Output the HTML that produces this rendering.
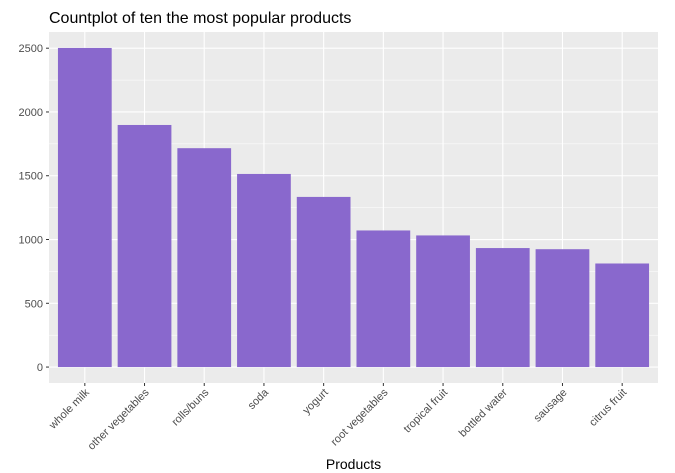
<!DOCTYPE html>
<html><head><meta charset="utf-8"><style>body{margin:0;background:#fff}svg{display:block;font-family:"Liberation Sans",Arial,sans-serif}</style></head>
<body>
<svg id="c" width="675" height="473"></svg>
<script>
const categories=["whole milk","other vegetables","rolls/buns","soda","yogurt","root vegetables","tropical fruit","bottled water","sausage","citrus fruit"];
const counts=[2502,1898,1716,1514,1334,1071,1032,933,924,812];
const yTicks=[0,500,1000,1500,2000,2500];
const NS="http://www.w3.org/2000/svg";
const svg=document.getElementById('c');
const L=49,R=658,T=32,B=383;
const ymin=-125,ymax=2627;
const y=v=>B-(v-ymin)/(ymax-ymin)*(B-T);
const step=(R-L)/(categories.length-1+1.2);
const x=i=>L+step*(0.6+i);
function mk(t,a,p){const e=document.createElementNS(NS,t);for(const k in a)e.setAttribute(k,a[k]);(p||svg).appendChild(e);return e;}
const panel=mk('rect',{x:L,y:T,width:R-L,height:B-T,fill:'#ebebeb'});


for(let i=0;i<yTicks.length-1;i++){const m=(yTicks[i]+yTicks[i+1])/2;const g=mk('line',{x1:L,x2:R,y1:y(m),y2:y(m),stroke:'#fff','stroke-width':0.5});

}
yTicks.forEach(v=>{const g=mk('line',{x1:L,x2:R,y1:y(v),y2:y(v),stroke:'#fff','stroke-width':1.1});


mk('line',{x1:L-3,x2:L,y1:y(v),y2:y(v),stroke:'#333','stroke-width':1});
const t=mk('text',{x:L-6,y:y(v)+4,'text-anchor':'end','font-size':11,fill:'#4d4d4d'});t.textContent=v;

});
categories.forEach((c,i)=>{const g=mk('line',{x1:x(i),x2:x(i),y1:T,y2:B,stroke:'#fff','stroke-width':1.1});

});
categories.forEach((c,i)=>{const w=step*0.9;
const b=mk('rect',{x:x(i)-w/2,y:y(counts[i]),width:w,height:y(0)-y(counts[i]),fill:'#8968cd'});


mk('line',{x1:x(i),x2:x(i),y1:B,y2:B+3,stroke:'#333','stroke-width':1});
const t=mk('text',{x:0,y:0,'text-anchor':'end','font-size':11,fill:'#4d4d4d',transform:`translate(${x(i)+5},${B+10}) rotate(-45)`});t.textContent=c;

});
const title=mk('text',{x:49,y:23,'font-size':16,fill:'#000'});title.textContent='Countplot of ten the most popular products';


const xt=mk('text',{x:(L+R)/2,y:469,'text-anchor':'middle','font-size':14,fill:'#000'});xt.textContent='Products';


</script>
</body></html>
